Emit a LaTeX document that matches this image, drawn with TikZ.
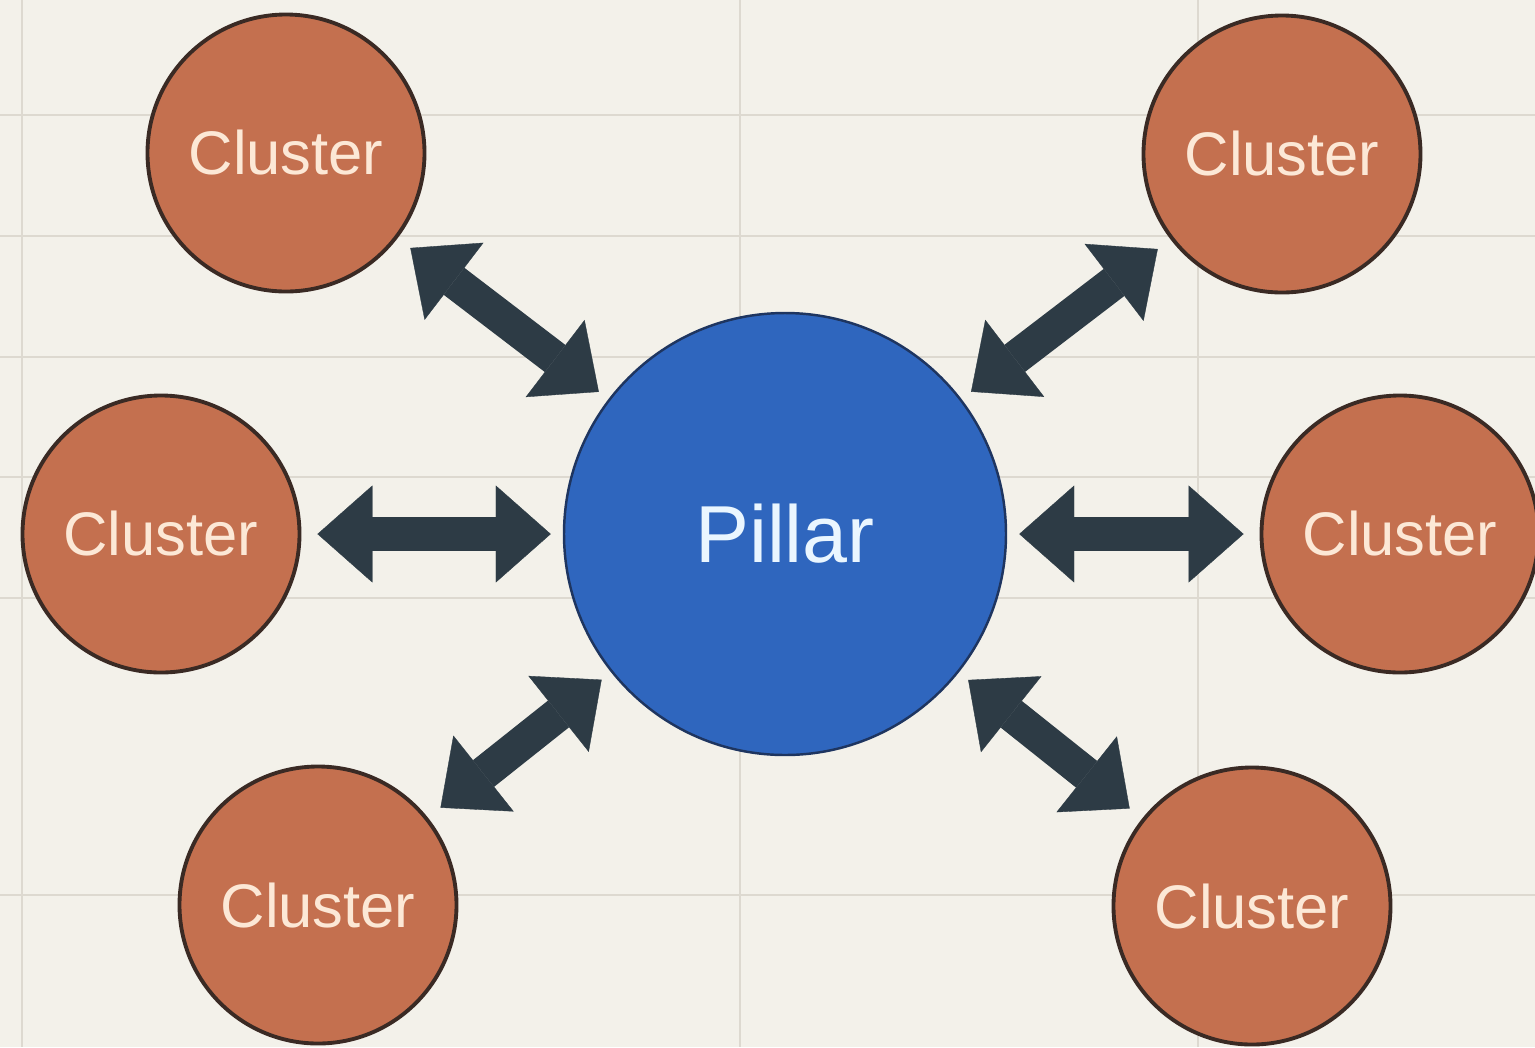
\documentclass[tikz,border=0pt]{standalone}
\usepackage{fontspec}
\setmainfont{Liberation Sans}
\usetikzlibrary{positioning,arrows.meta}
\definecolor{bg}{HTML}{F3F1EA}
\definecolor{gridc}{HTML}{DDD9D0}
\definecolor{clfill}{HTML}{C4704F}
\definecolor{clborder}{HTML}{3A2A24}
\definecolor{cltext}{HTML}{FCE8D6}
\definecolor{plfill}{HTML}{2F66BE}
\definecolor{plborder}{HTML}{1E3560}
\definecolor{pltext}{HTML}{EAF6FF}
\definecolor{arrowc}{HTML}{2D3B45}
\begin{document}
\begin{tikzpicture}[
cluster/.style={circle,draw=clborder,line width=1.1pt,fill=clfill,text=cltext,minimum size=2.77cm,inner sep=0pt,font=\fontsize{17.5}{20}\selectfont},
pillar/.style={circle,draw=plborder,line width=0.7pt,fill=plfill,text=pltext,minimum size=4.42cm,inner sep=0pt,font=\fontsize{23}{26}\selectfont},
link/.style={draw=arrowc,line width=0.34cm,{Triangle[length=0.55cm,width=0.97cm,line width=0.1pt]}-{Triangle[length=0.55cm,width=0.97cm,line width=0.1pt]},shorten <=0.16cm,shorten >=0.12cm},
on grid]
\useasboundingbox (0,0) rectangle (15.35,-10.47);
\fill[bg] (0,0) rectangle (15.35,-10.47);
\foreach \x in {0.22,7.40,11.98} \draw[gridc,line width=0.6pt] (\x,0) -- (\x,-10.47);
\foreach \y in {1.15,2.36,3.57,4.77,5.98,8.95} \draw[gridc,line width=0.6pt] (0,-\y) -- (15.35,-\y);
\node[pillar](p) at (7.85,-5.34) {Pillar};
\node[cluster,left=6.24cm of p](c1) {Cluster};
\node[cluster,right=6.15cm of p](c2) {Cluster};
\node[cluster,above left=3.81cm and 4.99cm of p](c3) {Cluster};
\node[cluster,above right=3.80cm and 4.97cm of p](c4) {Cluster};
\node[cluster,below left=3.71cm and 4.67cm of p](c5) {Cluster};
\node[cluster,below right=3.72cm and 4.67cm of p](c6) {Cluster};
\draw[link] (c1) -- (p);
\draw[link] (c2) -- (p);
\draw[link] (c3) -- (p);
\draw[link] (c4) -- (p);
\draw[link] (c5) -- (p);
\draw[link] (c6) -- (p);
\end{tikzpicture}
\end{document}
